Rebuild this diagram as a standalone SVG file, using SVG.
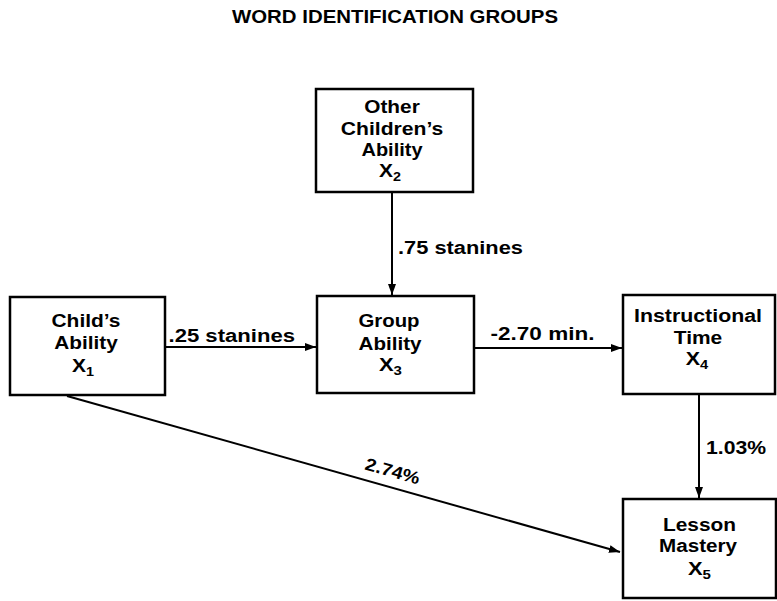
<svg xmlns="http://www.w3.org/2000/svg" width="777" height="601" viewBox="0 0 777 601">
<defs>
<marker id="ah" markerUnits="userSpaceOnUse" markerWidth="12" markerHeight="8" refX="11" refY="4" orient="auto">
<path d="M0,0 L11,4 L0,8 z" fill="#000"/>
</marker>
<style>
text{font-family:"Liberation Sans",Arial,Helvetica,sans-serif;font-weight:bold;fill:#000;}
.n{font-size:17.5px;text-anchor:middle;}
.l{font-size:17.5px;}
.sub{font-size:12px;}
rect{fill:#fff;stroke:#000;stroke-width:2.5;}
.c{stroke:#000;stroke-width:2;fill:none;marker-end:url(#ah);}
</style>
</defs>
<rect x="0" y="0" width="777" height="601" style="stroke:none;fill:#fff"/>
<text x="395" y="23" style="font-size:18px;text-anchor:middle" textLength="326" lengthAdjust="spacingAndGlyphs">WORD IDENTIFICATION GROUPS</text>
<g id="connectors">
<line class="c" x1="392" y1="192" x2="392" y2="295"/>
<line class="c" x1="165" y1="347" x2="316" y2="347"/>
<line class="c" x1="474" y1="348" x2="622" y2="348"/>
<line class="c" x1="699" y1="394" x2="699" y2="498"/>
<line class="c" x1="67" y1="396" x2="620" y2="552"/>
<text class="l" x="398" y="254" textLength="125" lengthAdjust="spacingAndGlyphs">.75 stanines</text>
<text class="l" x="168.5" y="342" textLength="126.5" lengthAdjust="spacingAndGlyphs">.25 stanines</text>
<text class="l" x="490.5" y="340" textLength="104" lengthAdjust="spacingAndGlyphs">-2.70 min.</text>
<text class="l" x="706" y="454" textLength="60" lengthAdjust="spacingAndGlyphs">1.03%</text>
<text class="l" x="391" y="477" style="text-anchor:middle" transform="rotate(15.9 391 477)" textLength="56" lengthAdjust="spacingAndGlyphs">2.74%</text>
</g>
<g id="x2">
<rect x="316" y="89" width="157" height="103"/>
<text class="n" x="392" y="113" textLength="55.5" lengthAdjust="spacingAndGlyphs">Other</text>
<text class="n" x="392" y="134.5" textLength="102.5" lengthAdjust="spacingAndGlyphs">Children’s</text>
<text class="n" x="392" y="156" textLength="61" lengthAdjust="spacingAndGlyphs">Ability</text>
<text class="n" x="390" y="177" textLength="22" lengthAdjust="spacingAndGlyphs">X<tspan class="sub" dy="4">2</tspan></text>
</g>
<g id="x1">
<rect x="10" y="297" width="155" height="98"/>
<text class="n" x="86" y="327" textLength="69" lengthAdjust="spacingAndGlyphs">Child’s</text>
<text class="n" x="86" y="349" textLength="63.5" lengthAdjust="spacingAndGlyphs">Ability</text>
<text class="n" x="83" y="372" textLength="22" lengthAdjust="spacingAndGlyphs">X<tspan class="sub" dy="4">1</tspan></text>
</g>
<g id="x3">
<rect x="317" y="296" width="157" height="97"/>
<text class="n" x="389" y="327" textLength="61" lengthAdjust="spacingAndGlyphs">Group</text>
<text class="n" x="390" y="350" textLength="63" lengthAdjust="spacingAndGlyphs">Ability</text>
<text class="n" x="390.5" y="371" textLength="23" lengthAdjust="spacingAndGlyphs">X<tspan class="sub" dy="4">3</tspan></text>
</g>
<g id="x4">
<rect x="623" y="295" width="152" height="99"/>
<text class="n" x="698" y="322" textLength="128" lengthAdjust="spacingAndGlyphs">Instructional</text>
<text class="n" x="698" y="344" textLength="48.5" lengthAdjust="spacingAndGlyphs">Time</text>
<text class="n" x="697" y="365" textLength="22.5" lengthAdjust="spacingAndGlyphs">X<tspan class="sub" dy="4">4</tspan></text>
</g>
<g id="x5">
<rect x="623" y="499" width="153" height="99"/>
<text class="n" x="699.5" y="531" textLength="73" lengthAdjust="spacingAndGlyphs">Lesson</text>
<text class="n" x="698" y="552" textLength="78" lengthAdjust="spacingAndGlyphs">Mastery</text>
<text class="n" x="699.5" y="575" textLength="23" lengthAdjust="spacingAndGlyphs">X<tspan class="sub" dy="4">5</tspan></text>
</g>
</svg>
